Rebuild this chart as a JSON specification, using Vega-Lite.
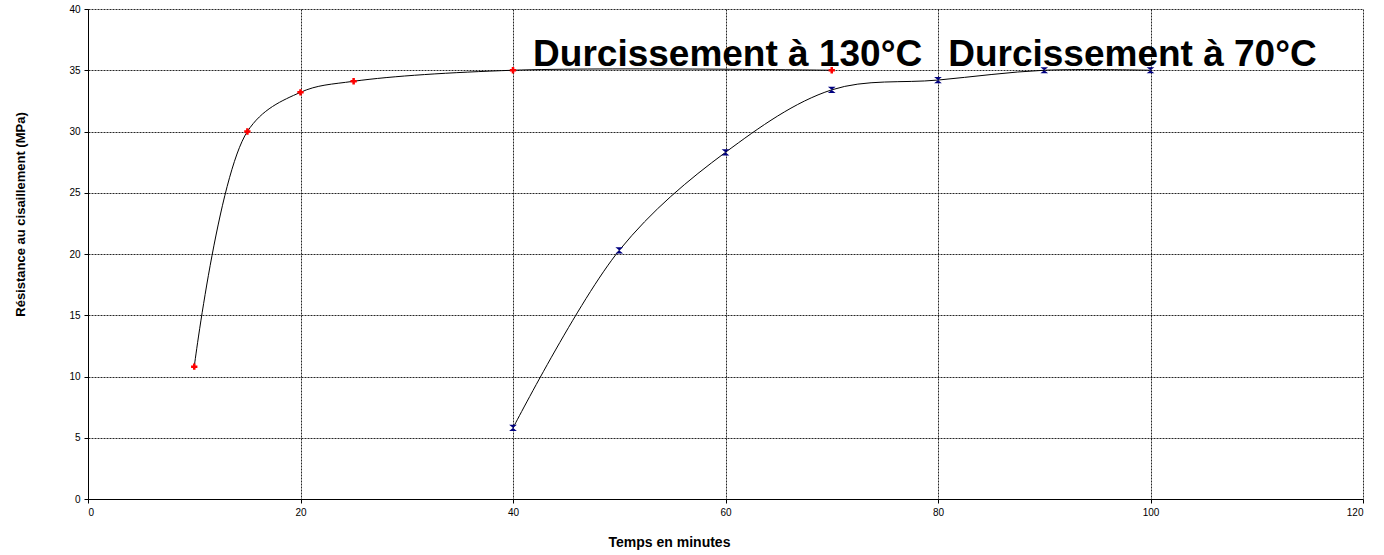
{
  "$schema": "https://vega.github.io/schema/vega-lite/v6.json",
  "width": 1275,
  "height": 490,
  "autosize": {"type": "none"},
  "padding": {"left": 88, "top": 9, "right": 21, "bottom": 56},
  "background": "white",
  "config": {
    "view": {"stroke": null},
    "font": "Liberation Sans",
    "axis": {
      "labelFont": "Liberation Sans",
      "titleFont": "Liberation Sans",
      "labelFontSize": 10,
      "labelColor": "#000000",
      "titleFontWeight": "bold",
      "titleColor": "#000000",
      "domainColor": "#000000",
      "domainWidth": 1,
      "tickColor": "#000000",
      "tickSize": 4,
      "gridColor": "#000000",
      "gridDash": [2, 1],
      "gridWidth": 1,
      "gridOpacity": 0.85
    }
  },
  "datasets": {
    "pts": [
      {"serie": "130°C", "t": 10, "r": 10.8},
      {"serie": "130°C", "t": 15, "r": 30.0},
      {"serie": "130°C", "t": 20, "r": 33.2},
      {"serie": "130°C", "t": 25, "r": 34.1},
      {"serie": "130°C", "t": 40, "r": 35.0},
      {"serie": "130°C", "t": 70, "r": 35.0},
      {"serie": "70°C", "t": 40, "r": 5.8},
      {"serie": "70°C", "t": 50, "r": 20.3},
      {"serie": "70°C", "t": 60, "r": 28.3},
      {"serie": "70°C", "t": 70, "r": 33.4},
      {"serie": "70°C", "t": 80, "r": 34.2},
      {"serie": "70°C", "t": 90, "r": 35.0},
      {"serie": "70°C", "t": 100, "r": 35.0}
    ],
    "labels": [
      {"label": "Durcissement à 130°C", "t": 60.2, "r": 35.35},
      {"label": "Durcissement à 70°C", "t": 98.3, "r": 35.35}
    ]
  },
  "layer": [
    {
      "data": {"name": "pts"},
      "mark": {"type": "line", "interpolate": "catmull-rom", "color": "#000000", "strokeWidth": 1},
      "encoding": {
        "x": {
          "field": "t", "type": "quantitative",
          "scale": {"domain": [0, 120], "nice": false},
          "axis": {"values": [0, 20, 40, 60, 80, 100, 120], "title": "Temps en minutes", "titleFontSize": 14, "titlePadding": 18, "titleX": 581, "labelPadding": 4}
        },
        "y": {
          "field": "r", "type": "quantitative",
          "scale": {"domain": [0, 40], "nice": false},
          "axis": {"values": [0, 5, 10, 15, 20, 25, 30, 35, 40], "title": "Résistance au cisaillement (MPa)", "titleFontSize": 13, "titleY": 205, "titleX": -61, "labelPadding": 4}
        },
        "detail": {"field": "serie"}
      }
    },
    {
      "data": {"name": "pts"},
      "mark": {"type": "point", "filled": true, "opacity": 1, "strokeWidth": 1},
      "encoding": {
        "x": {"field": "t", "type": "quantitative"},
        "y": {"field": "r", "type": "quantitative"},
        "color": {"field": "serie", "type": "nominal", "scale": {"domain": ["130°C", "70°C"], "range": ["#ff0000", "#000080"]}, "legend": null},
        "shape": {"field": "serie", "type": "nominal", "scale": {"domain": ["130°C", "70°C"], "range": ["cross", "M-1,-0.8L1,-0.8L-1,0.8L1,0.8Z"]}, "legend": null},
        "size": {"field": "serie", "type": "nominal", "scale": {"domain": ["130°C", "70°C"], "range": [40, 60]}, "legend": null}
      }
    },
    {
      "data": {"name": "labels"},
      "mark": {"type": "text", "font": "Liberation Sans", "fontSize": 37, "fontWeight": "bold", "align": "center", "baseline": "alphabetic", "color": "#000000"},
      "encoding": {
        "x": {"field": "t", "type": "quantitative"},
        "y": {"field": "r", "type": "quantitative"},
        "text": {"field": "label"}
      }
    }
  ]
}
